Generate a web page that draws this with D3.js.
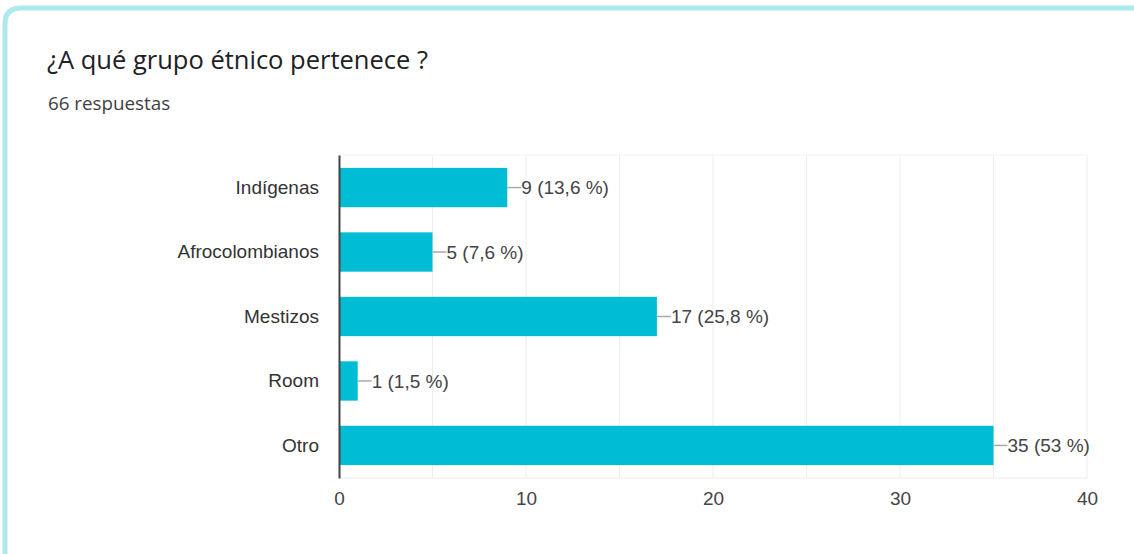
<!DOCTYPE html>
<html>
<head>
<meta charset="utf-8">
<script src="https://cdn.jsdelivr.net/npm/d3@7"></script>
<style>
  body { margin: 0; background: #fff; }
</style>
</head>
<body>
<div id="chart"></div>
<script>
const categories = ["Indígenas", "Afrocolombianos", "Mestizos", "Room", "Otro"];
const counts = [9, 5, 17, 1, 35];
const labels = ["9 (13,6 %)", "5 (7,6 %)", "17 (25,8 %)", "1 (1,5 %)", "35 (53 %)"];
const xTicks = [0, 10, 20, 30, 40];
const gridTicks = [0, 5, 10, 15, 20, 25, 30, 35, 40];

const data = categories.map((c, i) => ({ name: c, value: counts[i], label: labels[i] }));

const width = 1134, height = 554;
const margin = { top: 155, right: 47, bottom: 76, left: 339 };
const chartFont = "Arial, 'Liberation Sans', sans-serif";

const svg = d3.select("#chart").append("svg")
    .attr("width", width)
    .attr("height", height)
    .style("font-family", chartFont);

// card
svg.append("path")
    .attr("d", `M5,${height} L5,24 Q5,8 21,8 L${width},8`)
    .attr("fill", "none")
    .attr("stroke", "#aee9ee")
    .attr("stroke-width", 5);
svg.append("rect")
    .attr("x", 9).attr("y", 11)
    .attr("width", width).attr("height", height)
    .attr("rx", 10)
    .attr("fill", "#fff");

svg.append("text")
    .attr("x", 47).attr("y", 69)
    .attr("font-family", "'Open Sans', Roboto, sans-serif")
    .attr("font-size", "25.5px")
    .attr("fill", "#202124")
    .text("¿A qué grupo étnico pertenece ?");

svg.append("text")
    .attr("x", 48).attr("y", 110)
    .attr("font-family", "'Open Sans', Roboto, sans-serif")
    .attr("font-size", "18.8px")
    .attr("fill", "#3c4043")
    .text("66 respuestas");

const g = svg.append("g").attr("transform", `translate(${margin.left},${margin.top})`);
const w = width - margin.left - margin.right;   // 748
const h = height - margin.top - margin.bottom;  // 323

const x = d3.scaleLinear().domain([0, 40]).range([0, w]);
const y = d3.scaleBand().domain(categories).range([0, h]).paddingInner(0.39).paddingOuter(0.2);

// grid
g.append("g")
    .selectAll("line")
    .data(gridTicks)
    .join("line")
    .attr("x1", d => x(d)).attr("x2", d => x(d))
    .attr("y1", 0).attr("y2", h)
    .attr("stroke", "#ededed");
g.append("line")
    .attr("x1", 0).attr("x2", w)
    .attr("y1", h).attr("y2", h)
    .attr("stroke", "#ebebeb");
g.append("line")
    .attr("x1", 0).attr("x2", w)
    .attr("y1", 0).attr("y2", 0)
    .attr("stroke", "#f3f3f3");

// bars
g.selectAll(".bar")
    .data(data)
    .join("rect")
    .attr("class", "bar")
    .attr("x", 0)
    .attr("y", d => y(d.name))
    .attr("width", d => x(d.value))
    .attr("height", y.bandwidth())
    .attr("fill", "#00bcd4");

// leader lines + labels
g.selectAll(".leader")
    .data(data)
    .join("line")
    .attr("class", "leader")
    .attr("x1", d => x(d.value))
    .attr("x2", d => x(d.value) + 14)
    .attr("y1", d => y(d.name) + y.bandwidth() / 2)
    .attr("y2", d => y(d.name) + y.bandwidth() / 2)
    .attr("stroke", "#aaa")
    .attr("stroke-width", 1.5);

g.selectAll(".vlabel")
    .data(data)
    .join("text")
    .attr("class", "vlabel")
    .attr("x", d => x(d.value) + 14)
    .attr("y", d => y(d.name) + y.bandwidth() / 2)
    .attr("dy", "0.35em")
    .attr("font-size", "19px")
    .attr("fill", "#444")
    .text(d => d.label);

// axes
const yAxis = g.append("g")
    .call(d3.axisLeft(y).tickSize(0).tickPadding(20));
yAxis.select(".domain").attr("stroke", "#444").attr("stroke-width", 2);
yAxis.selectAll("text").attr("font-size", "19px").attr("fill", "#333").attr("font-family", chartFont);

const xAxis = g.append("g")
    .attr("transform", `translate(0,${h})`)
    .call(d3.axisBottom(x).tickValues(xTicks).tickSize(0).tickPadding(14));
xAxis.select(".domain").remove();
xAxis.selectAll("text").attr("font-size", "19px").attr("fill", "#444").attr("font-family", chartFont);
</script>
</body>
</html>
